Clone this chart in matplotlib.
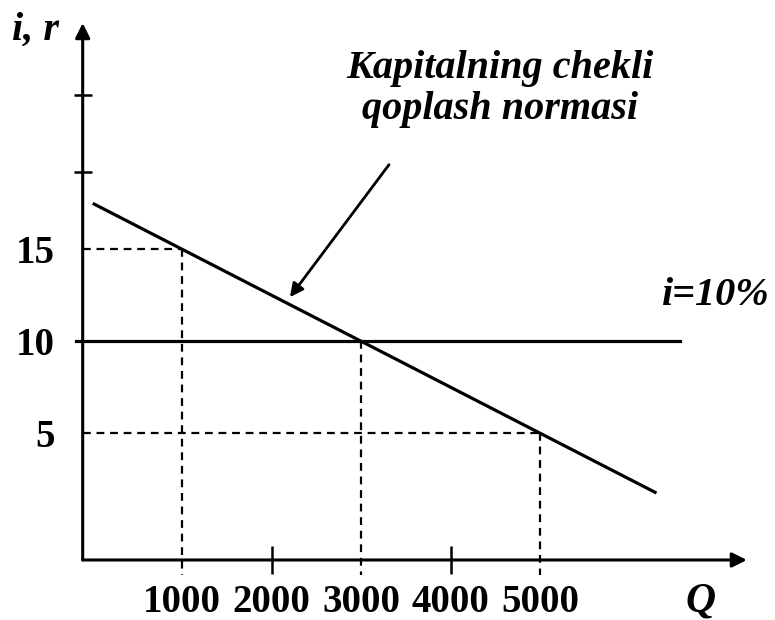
import matplotlib.pyplot as plt

plt.rcParams['font.family'] = ['Liberation Serif', 'DejaVu Serif']
plt.rcParams['font.weight'] = 'bold'

# values
q_ticks = [1000, 2000, 3000, 4000, 5000]
q_marks = [2000, 4000]
r_ticks = [5, 10, 15]
r_marks = [19.2, 23.4]   # unlabelled ticks on the r axis

mec_q = [0, 6300]        # marginal efficiency of capital line
mec_r = [17.5, 1.75]
rate_i = 10
rate_q = [-190, 6560]

guide_q = [1000, 3000, 5000]
guide_r = [15, 10, 5]

x0, x1 = -112, 7310
y0, y1 = -1.89, 27.3

fig = plt.figure(figsize=(7.75, 6.2), dpi=100)
ax = fig.add_axes([0.1067, 0.0968, 0.857, 0.866])
ax.set_xlim(x0, x1)
ax.set_ylim(y0, y1)
for s in ax.spines.values():
    s.set_visible(False)

# axes with arrows
ax.annotate('', xy=(x1, y0), xytext=(x0, y0), annotation_clip=False,
            arrowprops=dict(arrowstyle='-|>', lw=2.2, color='black', mutation_scale=22, shrinkA=0, shrinkB=0))
ax.annotate('', xy=(x0, y1), xytext=(x0, y0), annotation_clip=False,
            arrowprops=dict(arrowstyle='-|>', lw=2.2, color='black', mutation_scale=22, shrinkA=0, shrinkB=0))

# ticks: marks without labels, labels without marks
ax.xaxis.remove_overlapping_locs = False
ax.yaxis.remove_overlapping_locs = False
ax.set_xticks(q_marks)
ax.set_xticklabels([])
ax.set_xticks(q_ticks, minor=True)
ax.set_xticklabels([str(v) for v in q_ticks], minor=True, fontsize=28, fontweight='bold')
ax.set_yticks(r_marks)
ax.set_yticklabels([])
ax.set_yticks(r_ticks, minor=True)
ax.set_yticklabels([str(v) for v in r_ticks], minor=True, fontsize=28, fontweight='bold')
ax.tick_params(which='major', direction='inout', length=20, width=1.8)
ax.tick_params(axis='y', which='major', length=13)
ax.tick_params(which='minor', length=0)
ax.tick_params(axis='x', which='minor', pad=17)
ax.tick_params(axis='y', which='minor', pad=20)

# dashed guides
for gq, gr in zip(guide_q, guide_r):
    ax.plot([gq, gq], [gr, y0 - 0.8], color='black', lw=1.6, ls=(0, (3.5, 2.6)), clip_on=False)
    if gr != rate_i:
        ax.plot([x0, gq], [gr, gr], color='black', lw=1.6, ls=(0, (3.5, 2.6)), clip_on=False)

# lines
ax.plot(rate_q, [rate_i, rate_i], color='black', lw=2.3, clip_on=False)
ax.plot(mec_q, mec_r, color='black', lw=2.3, solid_capstyle='butt')

# labels
ax.text(4551, 23.7, 'Kapitalning chekli\nqoplash normasi', ha='center', va='center',
        fontsize=29, fontweight='bold', style='italic', linespacing=1.15)
ax.annotate('', xy=(2204, 12.4), xytext=(3311, 19.6),
            arrowprops=dict(arrowstyle='-|>', lw=2, color='black', mutation_scale=20, shrinkA=0, shrinkB=0))
ax.text(6361, 11.97, 'i=10%', ha='left', va='baseline', fontsize=29, fontweight='bold', style='italic')
ax.text(-901, 26.4, 'i, r', ha='left', va='baseline', fontsize=29, fontweight='bold', style='italic',
        clip_on=False)
ax.text(6620, -4.71, 'Q', ha='left', va='baseline', fontsize=30, fontweight='bold', style='italic',
        clip_on=False)

fig.savefig('out.png', dpi=100)
